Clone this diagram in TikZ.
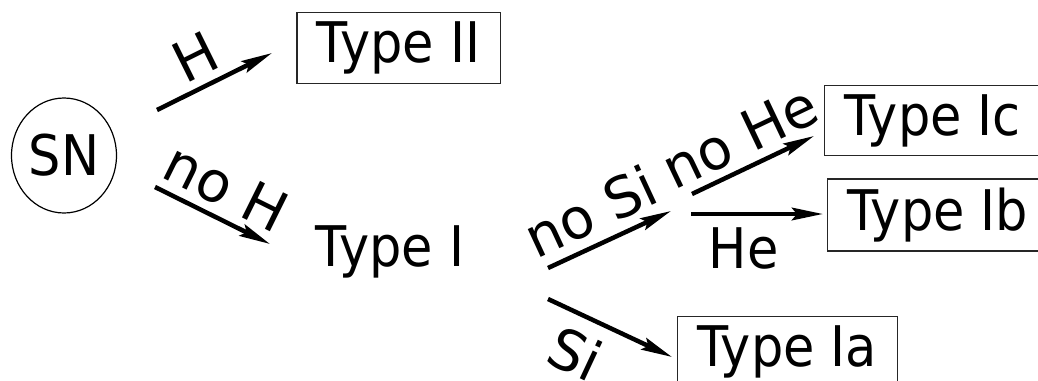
\documentclass[tikz,border=0pt]{standalone}
\usepackage{fontspec}
\setmainfont{DejaVu Sans}[FakeStretch=0.91]
\newfontfamily\lblfont{DejaVu Sans}
\usetikzlibrary{arrows.meta,shapes.geometric}

\tikzset{
  typebox/.style={draw=black!85,line width=1.3pt,inner xsep=20pt,inner ysep=9pt},
  arr/.style={line width=4.5pt,-{Stealth[length=31pt,width=12.5pt,inset=5pt]}},
  lbl/.style={sloped,inner sep=8pt,font=\lblfont\fontsize{56}{60}\selectfont}
}

\begin{document}
\begin{tikzpicture}[x=1pt,y=-1pt,font=\fontsize{56}{60}\selectfont]
  \useasboundingbox (0,0) rectangle (1038,380);

  % the nodes
  \node[ellipse,draw,line width=1.2pt,minimum width=105pt,minimum height=115pt,
    inner sep=0pt] (sn) at (64,155.5) {SN};
  \node[typebox] (typeII) at (398.5,48) {Type II};
  \node (typeI) at (390,252) {Type I};
  \node[typebox,anchor=west] (typeIc) at (824,120.5) {Type Ic};
  \node[typebox,anchor=west] (typeIb) at (827,215) {Type Ib};
  \node[typebox,anchor=north west] (typeIa) at (677,316) {Type Ia};

  % arrow ends
  \coordinate (snH) at (157,110);
  \coordinate (iiIn) at (272,53);
  \coordinate (snNoH) at (155,187);
  \coordinate (iIn) at (270,244);
  \coordinate (iNoSi) at (548,268);
  \coordinate (fork) at (671,211);
  \coordinate (forkNoHe) at (692,194);
  \coordinate (icIn) at (814,136);
  \coordinate (forkHe) at (691,214);
  \coordinate (ibIn) at (823,214);
  \coordinate (iSi) at (548,299);
  \coordinate (iaIn) at (672,357);

  \draw[arr] (snH) -- node[lbl,above,pos=0.45] {H} (iiIn);
  \draw[arr] (snNoH) -- node[lbl,above,pos=0.5] {no H} (iIn);
  \draw[arr] (iNoSi) -- node[lbl,above,pos=0.46,inner sep=10pt] {no Si} (fork);
  \draw[arr] (forkNoHe) -- node[lbl,above,pos=0.5] {no He} (icIn);
  \draw[arr] (forkHe) -- node[below,pos=0.4,inner sep=11pt] {He} (ibIn);
  \draw[arr] (iSi) -- node[lbl,below,pos=0.35,inner sep=14pt] {Si} (iaIn);
\end{tikzpicture}
\end{document}
